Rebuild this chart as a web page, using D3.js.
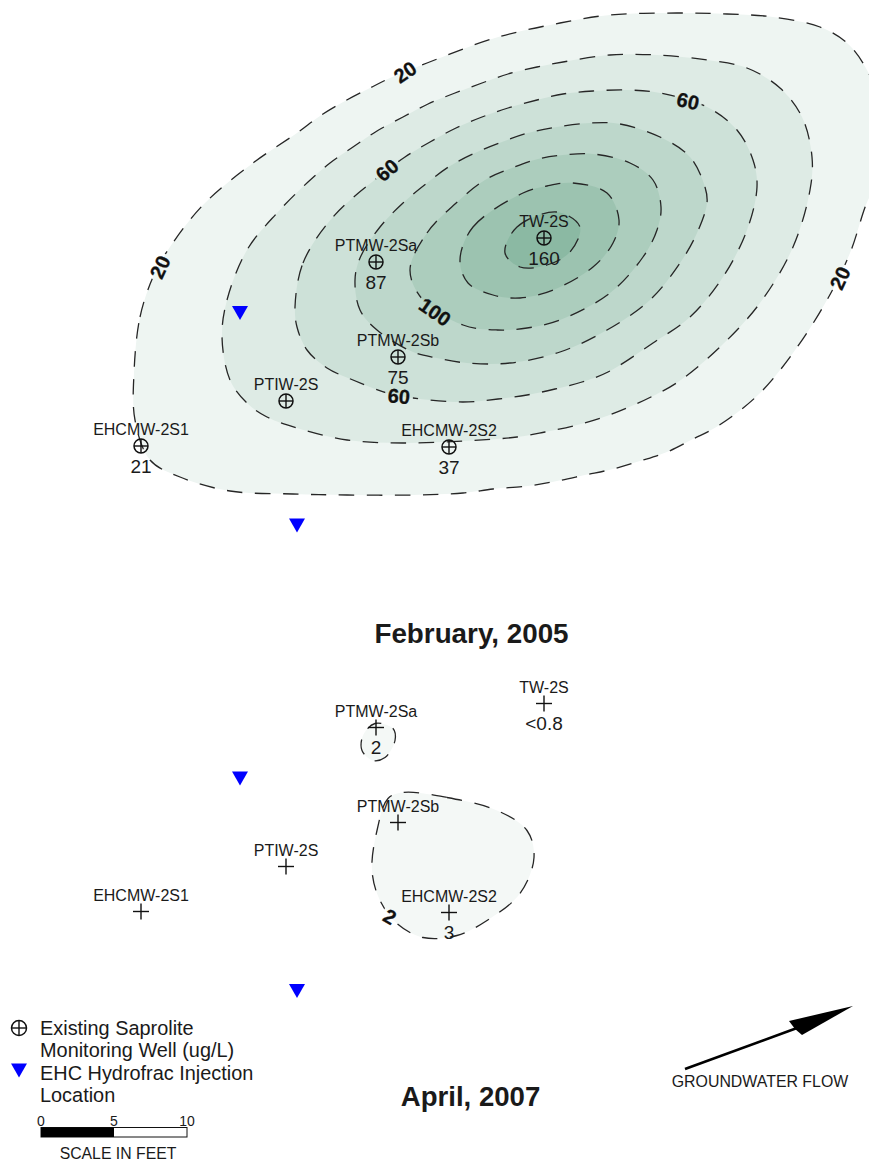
<!DOCTYPE html>
<html>
<head>
<meta charset="utf-8">
<script src="https://cdn.jsdelivr.net/npm/d3@7"></script>
<style>
html,body{margin:0;padding:0;background:#fff;overflow:hidden}
svg{display:block}
text{font-family:"Liberation Sans",Arial,sans-serif;fill:#1a1a1a}
</style>
</head>
<body>
<svg id="chart" width="869" height="1162"></svg>
<script>
// ---- Data (site grid units) ----
const contour20 = [[134,373],[140,317],[153,277],[168,250],[203,205],[253,163],[297,133],[320,116],[345,101],[370,88],[390,78],[427,63],[495,38],[560,23],[610,15],[677,13],[727,14],[773,17],[820,27],[847,43],[867,70],[882,110],[886,150],[880,180],[868,200],[850,253],[827,300],[793,353],[758,395],[718,426],[693,439],[667,452],[640,461],[613,469],[585,475],[557,481],[528,486],[493,489],[463,493],[413,495],[347,495],[293,494],[230,491],[180,477],[150,460],[135,420]];
const contour40 = [[222,337],[227,300],[247,250],[277,213],[308,182],[330,163],[353,147],[377,131],[403,117],[428,104],[455,93],[482,83],[508,74],[537,67],[563,62],[610,55],[657,55],[707,60],[747,68],[780,88],[802,117],[812,157],[810,190],[793,247],[760,303],[720,347],[678,382],[653,396],[627,408],[601,418],[573,426],[545,432],[517,437],[463,441],[403,443],[347,440],[297,428],[267,417],[247,403],[230,380]];
const contour60 = [[295,307],[303,263],[333,217],[377,178],[405,157],[430,142],[456,128],[482,117],[508,108],[537,100],[563,94],[593,91],[627,90],[660,93],[707,107],[737,130],[753,160],[757,187],[747,230],[723,277],[690,317],[653,343],[608,372],[582,382],[555,389],[527,395],[498,399],[463,402],[413,398],[387,393],[353,380],[327,368],[307,350],[297,327]];
const contour80 = [[355,280],[360,258],[380,227],[403,203],[427,183],[450,166],[475,153],[502,142],[528,133],[557,127],[590,123],[620,124],[660,137],[690,157],[705,187],[707,203],[697,233],[680,263],[650,300],[607,330],[560,352],[510,363],[467,363],[437,358],[413,352],[377,330],[360,310]];
const contour100 = [[410,270],[427,233],[455,204],[485,180],[512,168],[538,159],[563,155],[593,154],[630,163],[653,180],[661,207],[657,230],[643,257],[610,293],[560,320],[527,328],[497,330],[463,325],[423,300]];
const contour120 = [[460,260],[473,227],[523,193],[547,186],[573,183],[607,193],[619,220],[613,243],[593,267],[553,290],[520,298],[493,295],[468,283]];
const contour140 = [[505,253],[517,227],[557,212],[580,227],[570,252],[547,265],[520,267]];
const lowerContourA = [[375,258],[393,263],[395,275],[385,292],[373,295],[362,285],[363,270]];
const lowerContourB = [[403,327],[447,332],[497,345],[527,365],[534,392],[520,428],[487,455],[457,470],[423,472],[397,458],[380,435],[372,405],[377,365],[388,333]];

const upperLevels = [20,40,60,80,100,120,140];
const upperContours = [contour20,contour40,contour60,contour80,contour100,contour120,contour140];

const wellNames = ["TW-2S","PTMW-2Sa","PTMW-2Sb","PTIW-2S","EHCMW-2S1","EHCMW-2S2"];
const wellX = [544,376,398,286,141,449];
const wellY = [238,262,357,401,446,447];
const feb2005Values = ["160","87","75","","21","37"];
const apr2007Values = ["<0.8","2","","","","3"];

const injectionX = [240,297];
const injectionY = [313,525.5];

const upperLabelText = ["20","20","60","60","100","60","20"];
const upperLabelX = [405,160,387,688,435,399,840];
const upperLabelY = [72,267,170,101,312,396,278];
const upperLabelAngle = [-35,-65,-40,13,35,5,-65];
const lowerLabelText = ["2"];
const lowerLabelX = [390];
const lowerLabelY = [451];
const lowerLabelAngle = [30];

const scaleTicks = [0,5,10];
const titles = ["February, 2005","April, 2007"];
const legendLines = ["Existing Saprolite","Monitoring Well (ug/L)","EHC Hydrofrac Injection","Location"];

// ---- Scales ----
const x = d3.scaleLinear([0,869],[0,869]);
const yUpper = d3.scaleLinear([0,1162],[0,1162]);
const yLower = d3.scaleLinear([0,1162],[465.5,1627.5]);
const shade = d3.scaleLinear([20,140],["#eef5f2","#8bb9a3"]);
const lowerFill = "#f4f8f6";
const feet = d3.scaleLinear([0,10],[41,187]);

const svg = d3.select("#chart");
const defs = svg.append("defs");
const lineFor = y => d3.line().x(d=>x(d[0])).y(d=>y(d[1])).curve(d3.curveCatmullRomClosed.alpha(0.5));

// Mask that opens gaps in dashed lines where contour labels sit
const labels = [];
upperLabelText.forEach((t,i)=>labels.push({t,x:x(upperLabelX[i]),y:yUpper(upperLabelY[i]),a:upperLabelAngle[i]}));
lowerLabelText.forEach((t,i)=>labels.push({t,x:x(lowerLabelX[i]),y:yLower(lowerLabelY[i]),a:lowerLabelAngle[i]}));
const mask = defs.append("mask").attr("id","gaps").attr("maskUnits","userSpaceOnUse")
  .attr("x",0).attr("y",0).attr("width",869).attr("height",1162);
mask.append("rect").attr("width",869).attr("height",1162).attr("fill","#fff");
mask.selectAll("rect.g").data(labels).join("rect").attr("class","g")
  .attr("x",d=>-(d.t.length*11+6)/2).attr("y",-8)
  .attr("width",d=>d.t.length*11+6).attr("height",16).attr("fill","#000")
  .attr("transform",d=>`translate(${d.x},${d.y}) rotate(${d.a})`);

// Filled bands
const bands = svg.append("g");
bands.selectAll("path.up").data(upperContours).join("path").attr("class","up")
  .attr("d",lineFor(yUpper)).attr("fill",(d,i)=>shade(upperLevels[i]));
bands.selectAll("path.low").data([lowerContourA,lowerContourB]).join("path").attr("class","low")
  .attr("d",lineFor(yLower)).attr("fill",lowerFill);

// Dashed contour lines
const strokes = svg.append("g").attr("mask","url(#gaps)")
  .attr("fill","none").attr("stroke","#262626").attr("stroke-width",1.3).attr("stroke-dasharray","15.5 12.5");
strokes.selectAll("path.up").data(upperContours).join("path").attr("class","up").attr("d",lineFor(yUpper));
strokes.selectAll("path.low").data([lowerContourA,lowerContourB]).join("path").attr("class","low").attr("d",lineFor(yLower));

// Contour labels
svg.append("g").selectAll("text").data(labels).join("text")
  .text(d=>d.t).attr("text-anchor","middle").attr("dy","0.36em")
  .attr("font-size",20).attr("font-weight","bold").style("fill","#111")
  .style("stroke","#111").style("stroke-width",0.3)
  .attr("transform",d=>`translate(${d.x},${d.y}) rotate(${d.a})`);

// Wells
function plus(g,r){
  g.append("line").attr("x1",-r).attr("x2",r).attr("stroke","#111").attr("stroke-width",1.4);
  g.append("line").attr("y1",-r).attr("y2",r).attr("stroke","#111").attr("stroke-width",1.4);
}
function drawWells(y,values,ring){
  wellNames.forEach((name,i)=>{
    const px=x(wellX[i]), py=y(wellY[i]);
    const g=svg.append("g").attr("transform",`translate(${px},${py})`);
    if(ring){
      g.append("circle").attr("r",7).attr("fill","none").attr("stroke","#111").attr("stroke-width",1.5);
      plus(g,7);
    } else plus(g,8);
    g.append("text").text(name).attr("text-anchor","middle").attr("y",-11).attr("font-size",16);
    if(values[i]) g.append("text").text(values[i]).attr("text-anchor","middle").attr("y",26.5).attr("font-size",19);
  });
}
drawWells(yUpper,feb2005Values,true);
drawWells(yLower,apr2007Values,false);

// Injection locations
const tri = d3.line()([[-8,-7],[8,-7],[0,7]])+"Z";
function drawInjection(y){
  svg.append("g").selectAll("path").data(injectionX).join("path")
    .attr("d",tri).attr("fill","#0000ff")
    .attr("transform",(d,i)=>`translate(${x(d)},${y(injectionY[i])})`);
}
drawInjection(yUpper);
drawInjection(yLower);

// Titles
svg.append("text").text(titles[0]).attr("x",471.5).attr("y",643).attr("text-anchor","middle").attr("font-size",27.8).attr("font-weight","bold");
svg.append("text").text(titles[1]).attr("x",470.5).attr("y",1106).attr("text-anchor","middle").attr("font-size",27.6).attr("font-weight","bold");

// Legend
const lw=svg.append("g").attr("transform","translate(19,1028)");
lw.append("circle").attr("r",7.5).attr("fill","none").attr("stroke","#111").attr("stroke-width",1.5);
plus(lw,7.5);
svg.append("path").attr("d",tri).attr("fill","#0000ff").attr("transform","translate(19,1070.5)");
const legendY = d3.scalePoint(d3.range(legendLines.length),[1035,1102]);
svg.append("g").selectAll("text").data(legendLines).join("text")
  .text(d=>d).attr("x",40).attr("y",(d,i)=>legendY(i)).attr("font-size",19.9);

// Scale bar
svg.append("rect").attr("x",feet(0)).attr("y",1127.5).attr("width",feet(10)-feet(0)).attr("height",9.5)
  .attr("fill","#fff").attr("stroke","#111").attr("stroke-width",1);
svg.append("rect").attr("x",feet(0)).attr("y",1127.5).attr("width",feet(5)-feet(0)).attr("height",9.5).attr("fill","#000");
svg.append("g").selectAll("text").data(scaleTicks).join("text")
  .text(d=>d).attr("x",feet).attr("y",1126).attr("text-anchor","middle").attr("font-size",14);
svg.append("text").text("SCALE IN FEET").attr("x",118).attr("y",1159).attr("text-anchor","middle").attr("font-size",15.8);

// Groundwater arrow
svg.append("line").attr("x1",685).attr("y1",1069).attr("x2",797).attr("y2",1028).attr("stroke","#000").attr("stroke-width",2.6);
svg.append("path").attr("d",d3.line()([[853,1006],[802,1035],[795,1029],[789,1021]])+"Z").attr("fill","#000");
svg.append("text").text("GROUNDWATER FLOW").attr("x",760).attr("y",1087).attr("text-anchor","middle").attr("font-size",15.9);
</script>
</body>
</html>
